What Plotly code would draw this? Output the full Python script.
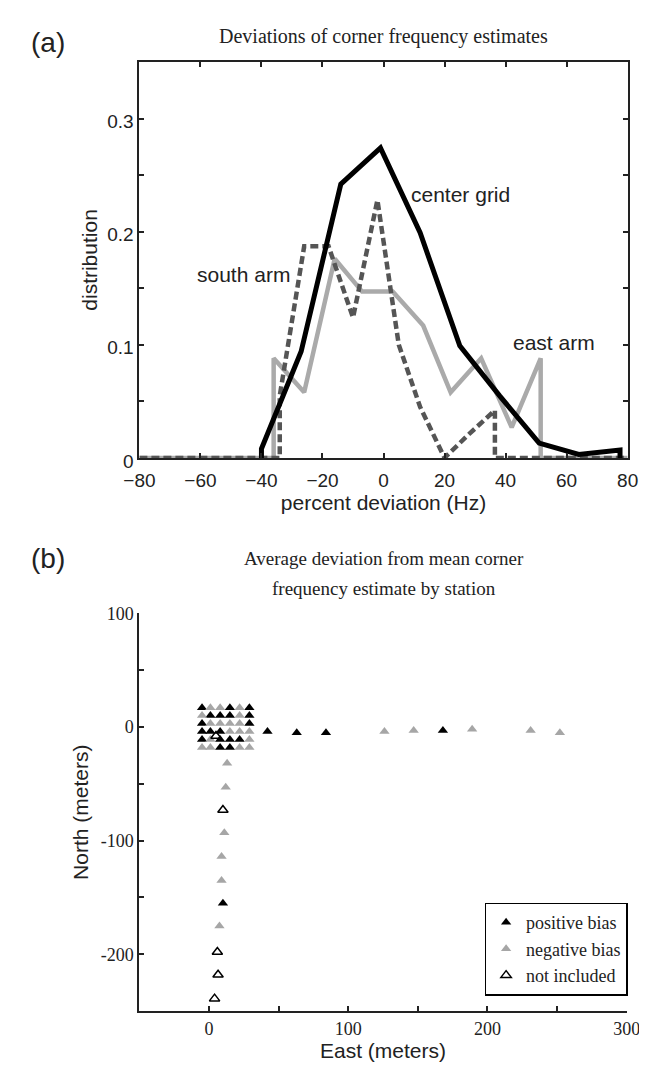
import plotly.graph_objects as go

# ---------- (a) distributions ----------
center_x = [-40, -40, -27, -14, -1, 12, 25, 38, 51, 64, 77.5, 77.5]
center_y = [0, 0.008, 0.094, 0.242, 0.274, 0.199, 0.099, 0.055, 0.013, 0.003, 0.007, 0]

south_x = [-80, -34, -34, -26, -18, -10, -2, 5, 12, 20, 28, 36.5, 36.5, 80]
south_y = [0, 0, 0.055, 0.187, 0.187, 0.124, 0.228, 0.1, 0.045, 0, 0.021, 0.042, 0, 0]

east_x = [-80, -36, -36, -26, -16, -7, 3, 13, 22, 32, 42, 51.5, 51.5, 80]
east_y = [0, 0, 0.088, 0.058, 0.176, 0.147, 0.147, 0.117, 0.058, 0.088, 0.027, 0.088, 0, 0]

# ---------- (b) stations ----------
pos_x = [-5, 15, 29, 1, 8, 15, 29, -5, 29, -5, 1, 8, -5, 8, 15, 22, 8, 15,
         42, 63, 84, 168, 10]
pos_y = [17, 17, 17, 10, 10, 10, 10, 3, 3, -4, -4, -4, -11, -11, -11, -11, -18, -18,
         -4, -5, -5, -3, -155]
neg_x = [1, 8, 22, -5, 22, 1, 8, 15, 22, 15, 22, 29, 1, 29, -5, 1, 22, 29,
         13, 12, 11, 9, 9, 7.5,
         126, 147, 189, 231, 252]
neg_y = [17, 17, 17, 10, 10, 3, 3, 3, 3, -4, -4, -4, -11, -11, -18, -18, -18, -18,
         -32, -53, -93, -114, -135, -175,
         -4, -3, -2, -3, -5]
exc_x = [5, 10, 6, 6.5, 4]
exc_y = [-8, -73, -198, -218, -239]

SANS = "Liberation Sans, Arial, sans-serif"
SERIF = "Liberation Serif, Times New Roman, serif"

fig = go.Figure()
fig.add_trace(go.Scatter(x=east_x, y=east_y, mode="lines", line=dict(color="#aaaaaa", width=4.5),
                         showlegend=False, xaxis="x", yaxis="y"))
fig.add_trace(go.Scatter(x=south_x, y=south_y, mode="lines",
                         line=dict(color="#555555", width=4.5, dash="8px,4px"),
                         showlegend=False, xaxis="x", yaxis="y"))
fig.add_trace(go.Scatter(x=center_x, y=center_y, mode="lines", line=dict(color="#000000", width=5),
                         showlegend=False, xaxis="x", yaxis="y"))

fig.add_trace(go.Scatter(x=pos_x, y=pos_y, mode="markers", name="positive bias",
                         marker=dict(symbol="triangle-up", size=9, color="#000000"),
                         xaxis="x2", yaxis="y2"))
fig.add_trace(go.Scatter(x=neg_x, y=neg_y, mode="markers", name="negative bias",
                         marker=dict(symbol="triangle-up", size=9, color="#a6a6a6"),
                         xaxis="x2", yaxis="y2"))
fig.add_trace(go.Scatter(x=exc_x, y=exc_y, mode="markers", name="not included",
                         marker=dict(symbol="triangle-up-open", size=9, color="#000000",
                                     line=dict(width=1.5, color="#000000")),
                         xaxis="x2", yaxis="y2"))

W, H = 647, 1067
def px(x):
    return x / W
def py(y):
    return 1 - y / H

top_ticks_y = [0, 0.05, 0.1, 0.15, 0.2, 0.25, 0.3]
top_ticktext_y = ["0", "", "0.1", "", "0.2", "", "0.3"]
top_ticks_x = [-80, -60, -40, -20, 0, 20, 40, 60, 80]
top_ticktext_x = ["\u221280", "\u221260", "\u221240", "\u221220", "0", "20", "40", "60", "80"]

bot_ticks_x = [0, 50, 100, 150, 200, 250, 300]
bot_ticktext_x = ["0", "", "100", "", "200", "", "300"]
bot_ticks_y = [-200, -150, -100, -50, 0, 50, 100]
bot_ticktext_y = ["-200", "", "-100", "", "0", "", "100"]

axis_common = dict(showgrid=False, zeroline=False, showline=True, linecolor="#222222",
                   linewidth=2, ticks="inside", ticklen=5, tickwidth=1.5, tickcolor="#222222")

def paper_text(text, x, y, family, size):
    return dict(text=text, x=px(x), y=py(y), xref="paper", yref="paper", showarrow=False,
                xanchor="center", yanchor="middle",
                font=dict(family=family, size=size, color="#222"))

def data_text(text, x, y):
    return dict(text=text, x=x, y=y, xref="x", yref="y", showarrow=False,
                xanchor="center", yanchor="middle",
                font=dict(family=SANS, size=21, color="#222"))

fig.update_layout(
    width=W, height=H, margin=dict(l=0, r=0, t=0, b=0),
    paper_bgcolor="white", plot_bgcolor="white",
    xaxis=dict(domain=[px(121), px(633)], range=[-80, 80], anchor="y", mirror="ticks",
               tickvals=top_ticks_x, ticktext=top_ticktext_x, ticklabelstandoff=4,
               tickfont=dict(family=SANS, size=19, color="#222"),
               title=dict(text="percent deviation (Hz)", font=dict(family=SANS, size=21, color="#222"),
                          standoff=5),
               **axis_common),
    yaxis=dict(domain=[py(450), py(45)], range=[0, 0.35], anchor="x", mirror="ticks",
               tickvals=top_ticks_y, ticktext=top_ticktext_y, ticklabelshift=3,
               tickfont=dict(family=SANS, size=19, color="#222"),
               title=dict(text="distribution", font=dict(family=SANS, size=21, color="#222"),
                          standoff=4),
               **axis_common),
    xaxis2=dict(domain=[px(121), px(632)], range=[-50, 300], anchor="y2",
                tickvals=bot_ticks_x, ticktext=bot_ticktext_x,
                tickfont=dict(family=SERIF, size=18, color="#222"),
                title=dict(text="East (meters)", font=dict(family=SANS, size=21, color="#222"),
                           standoff=6),
                **axis_common),
    yaxis2=dict(domain=[py(1016), py(609)], range=[-250, 100], anchor="x2",
                tickvals=bot_ticks_y, ticktext=bot_ticktext_y,
                tickfont=dict(family=SERIF, size=18, color="#222"),
                title=dict(text="North (meters)", font=dict(family=SANS, size=21, color="#222"),
                           standoff=6),
                **axis_common),
    legend=dict(x=px(483), y=py(905), xanchor="left", yanchor="top",
                bordercolor="#000000", borderwidth=1.5, bgcolor="white",
                font=dict(family=SERIF, size=18, color="#222"),
                itemwidth=30, tracegroupgap=0),
    annotations=[
        data_text("center grid", 25.3, 0.233),
        data_text("south arm", -46, 0.162),
        data_text("east arm", 56, 0.102),
        paper_text("Deviations of corner frequency estimates", 377, 19, SERIF, 20),
        paper_text("Average deviation from mean corner", 377, 553, SERIF, 19),
        paper_text("frequency estimate by station", 377, 584, SERIF, 19),
        paper_text("(a)", 25, 25, SANS, 28),
        paper_text("(b)", 25, 553, SANS, 28),
    ],
)

fig.write_html("out.html")
